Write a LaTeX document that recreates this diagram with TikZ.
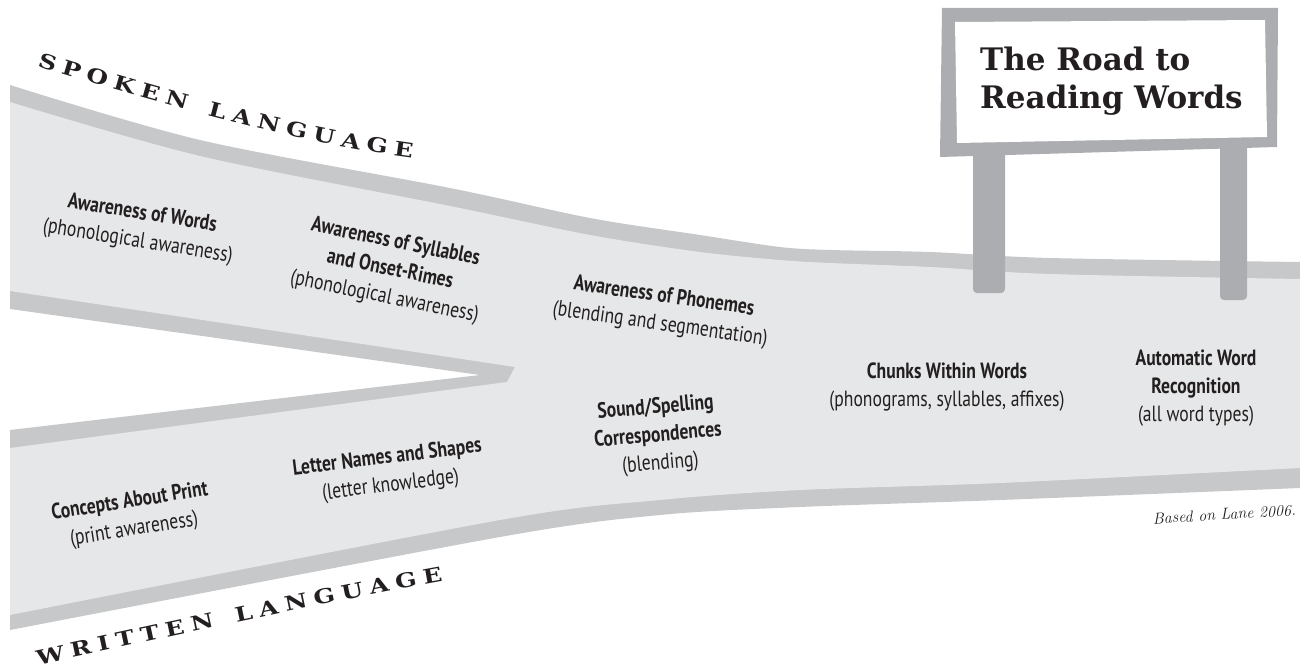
\documentclass[tikz,border=0pt]{standalone}
\usepackage{fontspec}
\usetikzlibrary{decorations.text}
\newfontfamily\lblfont[FakeStretch=0.8]{PT Sans}
\newfontfamily\signfont{DejaVu Serif}
\newfontfamily\widecaps[FakeStretch=1.25]{DejaVu Serif}
\newcommand\roadcaps{\widecaps\bfseries\fontsize{20}{20}\selectfont}
\definecolor{roadfill}{HTML}{E6E7E8}
\definecolor{roadband}{HTML}{C7C8CA}
\definecolor{postgray}{HTML}{ABADB0}
\definecolor{ink}{HTML}{231F20}
\begin{document}
\begin{tikzpicture}[x=1pt,y=-1pt,
  lbl/.style={font=\lblfont\fontsize{22}{28}\selectfont, align=center, text=ink, inner sep=0pt},
  signtitle/.style={font=\signfont\bfseries\fontsize{31}{38}\selectfont, align=left, text=ink, inner sep=0pt},
  srcnote/.style={font=\itshape\fontsize{16}{16}\selectfont, text=ink, inner sep=0pt},
  roadtext/.style={decorate, decoration={text along path, text align={fit to path}, text color=ink, text={|\roadcaps|#1}}}
]
\useasboundingbox (0,0) rectangle (1300,669);

% road: band colour everywhere except the white wedge
\fill[roadband]
  plot[smooth, tension=.5] coordinates {(10,85) (200,140) (450,188) (590,218) (700,235) (780,247) (830,250) (930,252) (1050,258) (1300,262)}
  -- plot[smooth, tension=.5] coordinates {(1300,488) (1000,500) (800,507) (660,515) (500,537) (10,630)}
  -- (10,430) -- (480,375) -- (10,309) -- cycle;
% road: light surface
\fill[roadfill]
  plot[smooth, tension=.5] coordinates {(10,102) (200,156) (450,206) (590,235) (700,252) (780,260) (830,263) (930,267) (1050,274) (1300,279)}
  -- plot[smooth, tension=.5] coordinates {(1300,468) (1000,483) (800,490) (660,500) (500,520) (10,615)}
  -- (10,448) -- (507,382) -- (515,367) -- (10,291) -- cycle;

% sign posts and board
\fill[postgray, rounded corners=4] (973,140) rectangle (1005,293);
\fill[postgray, rounded corners=4] (1220,140) rectangle (1247,300);
\fill[postgray] (942,8) -- (1278,8) -- (1277,147) -- (940,157) -- cycle;
\fill[white] (955,22) -- (1265,20) -- (1267,137) -- (957,143) -- cycle;
\node[signtitle, anchor=north west] (title) at (980,47) {The Road to\\Reading Words};

% road labels
\path[roadtext={SPOKEN LANGUAGE}] (37,66) .. controls (130,95) and (290,142) .. (412,158);
\path[roadtext={WRITTEN LANGUAGE}] (38,665) .. controls (160,639) and (320,603) .. (443,581);

% stages
\node[lbl, rotate=-9] (words) at (140,228) {\textbf{Awareness of Words}\\(phonological awareness)};
\node[lbl, rotate=-11.5] (syll) at (390,270) {\textbf{Awareness of Syllables}\\\textbf{and Onset-Rimes}\\(phonological awareness)};
\node[lbl, rotate=-8] (phon) at (662,311) {\textbf{Awareness of Phonemes}\\(blending and segmentation)};
\node[lbl, rotate=9] (print) at (132,516) {\textbf{Concepts About Print}\\(print awareness)};
\node[lbl, rotate=7] (letters) at (389,472) {\textbf{Letter Names and Shapes}\\(letter knowledge)};
\node[lbl, rotate=5] (sound) at (658,436) {\textbf{Sound/Spelling}\\\textbf{Correspondences}\\(blending)};
\node[lbl] (chunks) at (947,387) {\textbf{Chunks Within Words}\\(phonograms, syllables, affixes)};
\node[lbl] (auto) at (1196,388) {\textbf{Automatic Word}\\\textbf{Recognition}\\(all word types)};
\node[srcnote, rotate=3.5, anchor=east] (src) at (1296,510) {Based on Lane 2006.};
\end{tikzpicture}
\end{document}
